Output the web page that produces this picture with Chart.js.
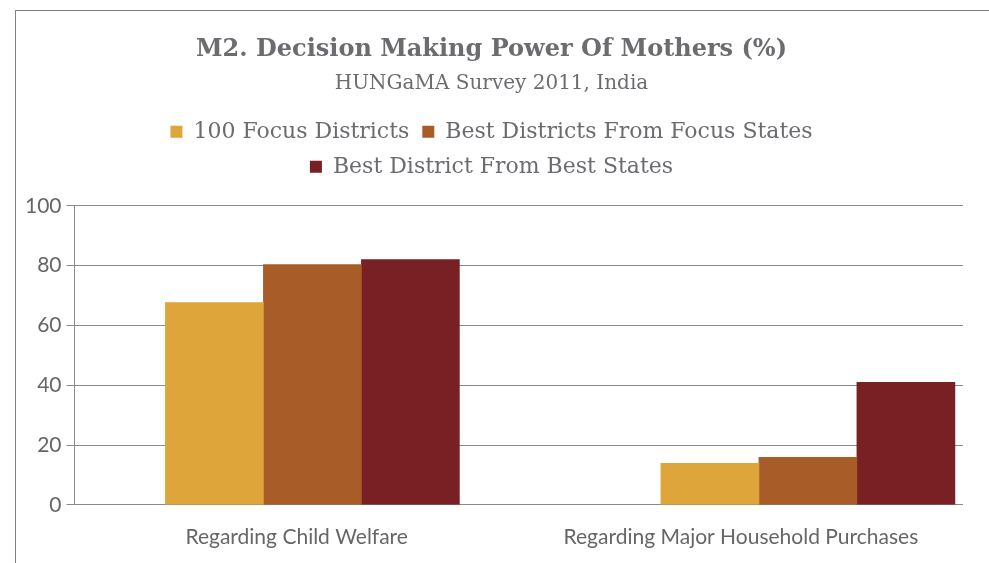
<!DOCTYPE html>
<html>
<head>
<meta charset="utf-8">
<script src="https://cdn.jsdelivr.net/npm/chart.js@4"></script>
<style>
  html, body { margin: 0; padding: 0; background: #fff; }
  #wrap { position: relative; width: 989px; height: 563px; overflow: hidden; }
  #frame {
    position: absolute; left: 15px; top: 10px; width: 990px; height: 560px;
    border-top: 1px solid #808080; border-left: 1px solid #808080;
  }
  #chart { position: absolute; left: 0; top: 0; }
</style>
</head>
<body>
<div id="wrap">
  <div id="frame"></div>
  <canvas id="chart" width="989" height="563"></canvas>
</div>
<script>
// Chart data
const categories = ['Regarding Child Welfare', 'Regarding Major Household Purchases'];
const focusDistricts = [67.6, 13.9];
const bestFocusStates = [80.3, 15.9];
const bestBestStates = [82.0, 41.0];
const yTicks = [0, 20, 40, 60, 80, 100];

const seriesNames = ['100 Focus Districts', 'Best Districts From Focus States', 'Best District From Best States'];
const seriesColors = ['#dea63a', '#a85d29', '#782024'];

const textGray = '#6b6c70';
const gridGray = '#8a8a8a';

function toPoints(values) {
    // bars sit on the category index of a linear axis
    return values.map((v, i) => ({ x: i, y: v }));
}

document.addEventListener('DOMContentLoaded', () => {
    const ctx = document.getElementById('chart');

    const datasets = [focusDistricts, bestFocusStates, bestBestStates].map((vals, i) => ({
        label: seriesNames[i],
        data: toPoints(vals),
        backgroundColor: seriesColors[i],
        borderWidth: 0,
        barThickness: 98,
        xAxisID: 'x'
    }));

    new Chart(ctx, {
        type: 'bar',
        data: { datasets },
        options: {
            responsive: false,
            animation: false,
            layout: { padding: { left: 20, right: 26, top: 0, bottom: 11 } },
            plugins: {
                title: {
                    display: true,
                    text: 'M2. Decision Making Power Of Mothers (%)',
                    color: textGray,
                    font: { family: 'DejaVu Serif', size: 24, weight: 'bold' },
                    padding: { top: 35, bottom: 4 }
                },
                subtitle: {
                    display: true,
                    text: 'HUNGaMA Survey 2011, India',
                    color: textGray,
                    font: { family: 'DejaVu Serif', size: 20 },
                    padding: { top: 4, bottom: 12 }
                },
                legend: {
                    position: 'top',
                    labels: {
                        color: textGray,
                        font: { family: 'DejaVu Serif', size: 22 },
                        boxWidth: 12,
                        boxHeight: 12,
                        padding: 13
                    }
                },
                tooltip: { enabled: false }
            },
            scales: {
                x: {
                    type: 'linear',
                    display: false,
                    offset: false,
                    min: -0.48,
                    max: 1.313
                },
                xLabels: {
                    type: 'category',
                    position: 'bottom',
                    labels: categories,
                    grid: { display: false, drawTicks: true, tickLength: 18 },
                    border: { display: false },
                    ticks: {
                        color: '#666',
                        font: { family: 'Lato', size: 21 },
                        padding: 2
                    }
                },
                // empty axis that only keeps room between legend and plot
                topGap: {
                    type: 'category',
                    position: 'top',
                    labels: [],
                    grid: { display: false, drawTicks: true, tickLength: 18 },
                    border: { display: false },
                    ticks: { display: false }
                },
                y: {
                    min: 0,
                    max: 100,
                    afterBuildTicks: axis => {
                        axis.ticks = yTicks.map(v => ({ value: v }));
                    },
                    grid: { color: gridGray, tickLength: 8, tickColor: gridGray },
                    border: { display: true, color: gridGray },
                    ticks: {
                        color: '#666',
                        font: { family: 'Lato', size: 21 },
                        padding: 5
                    }
                }
            }
        }
    });
});
</script>
</body>
</html>
